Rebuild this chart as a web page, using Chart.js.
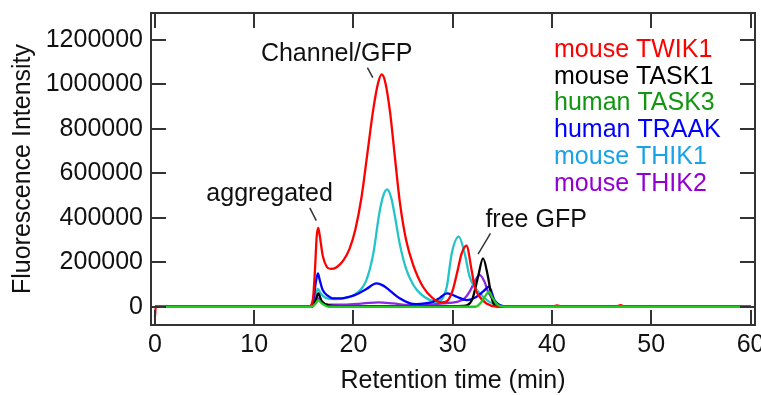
<!DOCTYPE html>
<html><head><meta charset="utf-8">
<script src="https://cdn.jsdelivr.net/npm/chart.js@4/dist/chart.umd.min.js"></script>
<style>html,body{margin:0;padding:0;background:#fff;}canvas{display:block;}</style>
</head><body>
<canvas id="c" width="761" height="395"></canvas>
<script>
// ---------- data ----------
const seriesNames = ['mouse TWIK1','mouse TASK1','human TASK3','human TRAAK','mouse THIK1','mouse THIK2'];

const twik1Time = [0, 0.08, 15.5, 15.9, 16.1, 16.3, 16.45, 16.6, 16.9, 17.3, 17.7, 18.3, 19.0, 19.6, 20.2, 20.8, 21.4, 22.0, 22.5, 22.85, 23.2, 23.7, 24.2, 24.7, 25.3, 26.0, 27.0, 28.0, 28.9, 29.4, 30.0, 30.5, 30.9, 31.38, 31.9, 32.2, 32.7, 33.4, 34.5, 40.0, 40.5, 41.0, 46.4, 46.9, 47.4, 60];
const twik1Val  = [-45000, 0, 0, 30000, 150000, 320000, 355000, 320000, 230000, 180000, 170000, 178000, 210000, 260000, 350000, 490000, 690000, 890000, 1010000, 1045000, 1010000, 870000, 660000, 460000, 300000, 190000, 90000, 38000, 20000, 25000, 75000, 165000, 240000, 275000, 165000, 90000, 45000, 15000, 0, 0, 6000, 0, 0, 7000, 0, 0];

const task1Time = [0, 15.8, 16.2, 16.45, 16.8, 17.5, 18.5, 30.0, 31.0, 31.5, 32.0, 32.55, 33.05, 33.55, 33.9, 34.2, 34.8, 60];
const task1Val  = [0, 0, 30000, 60000, 25000, 6000, 3000, 3000, 4000, 8000, 38000, 135000, 218000, 135000, 45000, 8000, 0, 0];

const task3Time = [0, 15.8, 16.2, 16.45, 16.8, 17.5, 32.3, 32.9, 33.3, 33.65, 34.0, 34.5, 35.2, 60];
const task3Val  = [0, 0, 15000, 30000, 15000, 0, 0, 22000, 50000, 68000, 40000, 10000, 0, 0];

const traakTime = [0, 15.7, 16.0, 16.2, 16.42, 16.6, 16.9, 17.4, 17.9, 18.8, 19.6, 20.5, 21.3, 22.3, 23.0, 23.6, 24.65, 25.7, 26.3, 27.2, 28.0, 28.7, 29.4, 29.9, 30.4, 31.4, 32.4, 33.1, 33.65, 34.2, 34.7, 35.5, 60];
const traakVal  = [0, 0, 40000, 110000, 150000, 120000, 75000, 50000, 38000, 38000, 45000, 60000, 80000, 105000, 95000, 75000, 38000, 15000, 12000, 15000, 22000, 40000, 60000, 55000, 45000, 30000, 45000, 70000, 90000, 30000, 8000, 0, 0];

const thik1Time = [0, 15.6, 16.0, 16.2, 16.4, 16.7, 17.2, 18.0, 19.0, 20.3, 21.3, 22.0, 22.6, 23.0, 23.4, 23.8, 24.2, 24.65, 25.3, 26.0, 26.7, 27.7, 28.4, 29.0, 29.4, 29.9, 30.6, 31.2, 31.7, 32.2, 32.9, 33.7, 34.7, 35.5, 60];
const thik1Val  = [0, 0, 15000, 55000, 80000, 60000, 40000, 35000, 38000, 60000, 120000, 240000, 420000, 500000, 528000, 490000, 400000, 285000, 170000, 100000, 60000, 30000, 22000, 40000, 90000, 240000, 315000, 240000, 135000, 90000, 52000, 22000, 8000, 0, 0];

const thik2Time = [0, 15.8, 16.2, 16.45, 16.8, 17.5, 19.0, 21.0, 22.5, 24.0, 25.5, 27.0, 29.0, 30.4, 31.2, 31.7, 32.2, 32.7, 33.2, 33.55, 34.1, 34.7, 35.5, 60];
const thik2Val  = [0, 0, 20000, 38000, 20000, 10000, 10000, 15000, 20000, 15000, 8000, 8000, 15000, 22000, 38000, 68000, 112000, 143000, 112000, 68000, 30000, 8000, 0, 0];

const xTickValues = [0, 10, 20, 30, 40, 50, 60];
const yTickValues = [0, 200000, 400000, 600000, 800000, 1000000, 1200000];
const xTitle = 'Retention time (min)';
const yTitle = 'Fluorescence Intensity';
const annotationTexts = ['Channel/GFP', 'aggregated', 'free GFP'];

// ---------- styles / layout ----------
const lineColors = ['#ff0000', '#000000', '#1ecc1e', '#0000ff', '#22c4c8', '#8a2be2'];
const textColors = ['#ff0000', '#000000', '#129612', '#0000ff', '#1aa2e6', '#9400d3'];
const drawOrder  = [2, 3, 0, 4, 5, 6]; // lower = on top
const FONT = '"Liberation Sans", Arial, sans-serif';
const FS = 25;
// annotation layout in data coordinates: text centre/baseline and leader line
const annotationLayout = [
  {tx: 18.3, ty: 1105000, x1: 21.4, y1: 1075000, x2: 21.95, y2: 1030000},
  {tx: 11.55, ty: 475000, x1: 15.6, y1: 445000, x2: 16.25, y2: 387000},
  {tx: 38.4, ty: 360000, x1: 33.8, y1: 330000, x2: 32.55, y2: 237000}
];

const allTimes = [twik1Time, task1Time, task3Time, traakTime, thik1Time, thik2Time];
const allVals  = [twik1Val, task1Val, task3Val, traakVal, thik1Val, thik2Val];

const datasets = seriesNames.map((name, i) => ({
  label: name,
  data: allTimes[i].map((t, k) => ({x: t, y: allVals[i][k]})),
  borderColor: lineColors[i],
  backgroundColor: lineColors[i],
  borderWidth: 2.3,
  pointRadius: 0,
  fill: false,
  cubicInterpolationMode: 'monotone',
  order: drawOrder[i]
}));

const decorPlugin = {
  id: 'decor',
  afterDraw(chart) {
    const ctx = chart.ctx;
    const a = chart.chartArea;
    const xs = chart.scales.x, ys = chart.scales.y;
    ctx.save();
    ctx.strokeStyle = '#333';
    ctx.lineWidth = 2;
    ctx.strokeRect(a.left, a.top, a.right - a.left, a.bottom - a.top);
    const TL = 15;
    ctx.beginPath();
    xTickValues.forEach(v => {
      const px = Math.round(xs.getPixelForValue(v));
      ctx.moveTo(px, a.bottom); ctx.lineTo(px, a.bottom - TL);
      ctx.moveTo(px, a.top); ctx.lineTo(px, a.top + TL);
    });
    yTickValues.forEach(v => {
      const py = Math.round(ys.getPixelForValue(v));
      ctx.moveTo(a.left, py); ctx.lineTo(a.left + TL, py);
      ctx.moveTo(a.right, py); ctx.lineTo(a.right - TL, py);
    });
    ctx.stroke();
    ctx.font = FS + 'px ' + FONT;
    ctx.fillStyle = '#111';
    ctx.textAlign = 'center';
    ctx.textBaseline = 'alphabetic';
    ctx.lineWidth = 1.5;
    annotationTexts.forEach((txt, i) => {
      const L = annotationLayout[i];
      ctx.fillText(txt, xs.getPixelForValue(L.tx), ys.getPixelForValue(L.ty));
      ctx.beginPath();
      ctx.moveTo(xs.getPixelForValue(L.x1), ys.getPixelForValue(L.y1));
      ctx.lineTo(xs.getPixelForValue(L.x2), ys.getPixelForValue(L.y2));
      ctx.stroke();
    });
    ctx.textAlign = 'left';
    seriesNames.forEach((name, i) => {
      ctx.fillStyle = textColors[i];
      ctx.fillText(name, 554, 57 + i * 26.7);
    });
    ctx.restore();
  }
};

new Chart(document.getElementById('c'), {
  type: 'line',
  data: {datasets},
  options: {
    responsive: false,
    animation: false,
    devicePixelRatio: 1,
    layout: {padding: {top: 13, right: 6, left: 0, bottom: 0}},
    plugins: {legend: {display: false}, tooltip: {enabled: false}},
    scales: {
      x: {
        type: 'linear', min: -0.4, max: 60.45,
        grid: {display: false, drawTicks: false, tickLength: 0}, border: {display: false},
        ticks: {color: '#111', padding: 5, autoSkip: false,
                font: {family: FONT, size: FS}, maxRotation: 0, minRotation: 0,
                callback: v => String(v)},
        afterBuildTicks(s) { s.ticks = xTickValues.map(v => ({value: v})); },
        title: {display: true, text: xTitle, color: '#111', font: {family: FONT, size: FS, lineHeight: 1.1}, padding: {top: 0, bottom: 0}},
        afterFit(s) { s.height = 70; s.paddingLeft = 0; s.paddingRight = 0; }
      },
      y: {
        type: 'linear', min: -82000, max: 1321000,
        grid: {display: false, drawTicks: false, tickLength: 0}, border: {display: false},
        ticks: {color: '#111', padding: 8, autoSkip: false,
                font: {family: FONT, size: FS},
                callback: v => String(v)},
        afterBuildTicks(s) { s.ticks = yTickValues.map(v => ({value: v})); },
        title: {display: true, text: yTitle, color: '#111', font: {family: FONT, size: FS}, padding: {top: 8, bottom: 0}},
        afterFit(s) { s.width = 151; s.paddingTop = 0; s.paddingBottom = 0; }
      }
    }
  },
  plugins: [decorPlugin]
});
</script>
</body></html>
